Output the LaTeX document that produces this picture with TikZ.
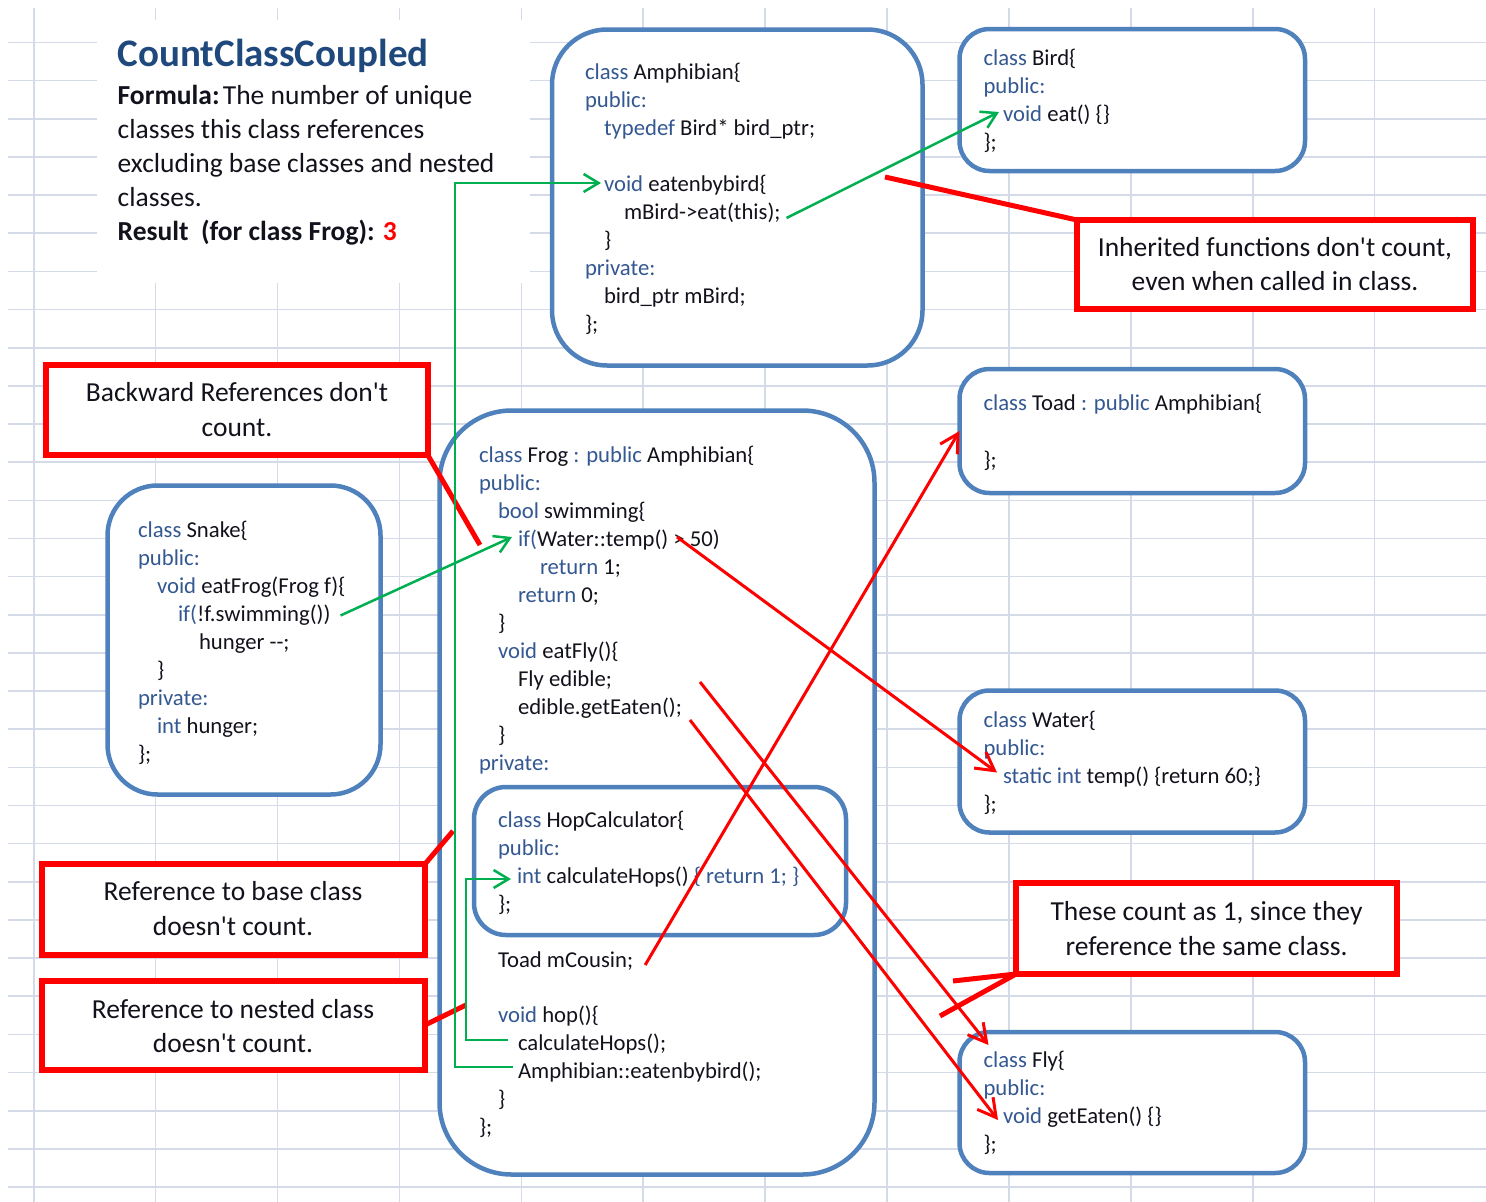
\documentclass[tikz,border=0pt]{standalone}
\usepackage{fontspec}
\setmainfont{Carlito}
\usetikzlibrary{arrows.meta}
\definecolor{gridc}{RGB}{212,218,232}
\definecolor{boxblue}{RGB}{79,129,189}
\definecolor{cred}{RGB}{255,0,0}
\definecolor{cgreen}{RGB}{0,176,80}
\definecolor{kwc}{RGB}{52,88,145}
\definecolor{ink}{RGB}{18,18,28}
\definecolor{titleblue}{RGB}{31,73,125}
\newcommand{\kw}[1]{\textcolor{kwc}{#1}}
\newcommand{\codefont}{\fontsize{22.7}{28}\selectfont}
\newcommand{\notefont}{\fontsize{27.5}{34}\selectfont}
\newcommand{\sq}{\textquotesingle}
\begin{document}
\begin{tikzpicture}[x=1pt,y=-1pt,
  gridline/.style={draw=gridc, line width=1.6pt},
  classbox/.style={draw=boxblue, line width=4.5pt, fill=white, inner sep=0pt, outer sep=0pt},
  callout/.style={draw=cred, line width=6pt, fill=white, inner sep=0pt, outer sep=0pt},
  code/.style={anchor=base west, inner sep=0pt, outer sep=0pt, font=\codefont, text=ink, text height=16pt, text depth=5pt},
  note/.style={anchor=base, inner sep=0pt, font=\notefont, text=ink},
  body/.style={anchor=base west, inner sep=0pt, font=\notefont, text=ink},
  garrow/.style={draw=cgreen, line width=2.5pt, -{Straight Barb[length=15pt,width=18pt]}},
  rarrow/.style={draw=cred, line width=3pt, -{Straight Barb[length=18pt,width=20pt]}},
  rlink/.style={draw=cred, line width=5pt},
]
\useasboundingbox[fill=white] (0,0) rectangle (1486,1202);
% spreadsheet grid
\foreach \j in {0,...,11}{\draw[gridline] ({33.7+121.9*\j},8) -- ({33.7+121.9*\j},1202);}
\foreach \k in {0,...,30}{\draw[gridline] (8,{42.5+38.15*\k}) -- (1486,{42.5+38.15*\k});}
% title block
\node[fill=white, inner sep=0pt, minimum width=433pt, minimum height=263pt] (titlebg) at (313.5,151.5) {};
\node[anchor=base west, inner sep=0pt, font=\bfseries\fontsize{39}{39}\selectfont, text=titleblue] (title) at (117.5,66.5) {CountClassCoupled};
\node[body] (f1) at (117.5,104) {\textbf{Formula:}\hspace{0.12em}The number of unique};
\node[body] (f2) at (117.5,138.2) {classes this class references};
\node[body] (f3) at (117.5,172.4) {excluding base classes and nested};
\node[body] (f4) at (117.5,206.6) {classes.};
\node[body] (f5) at (117.5,240.8) {\textbf{Result\hspace{0.45em}(for class Frog): \textcolor{cred}{3}}};
% class boxes
\node[classbox, rounded corners=55pt, minimum width=370.5pt, minimum height=336pt] (amph) at (737.25,197.5) {};
\node[classbox, rounded corners=30pt, minimum width=345.5pt, minimum height=142pt] (bird) at (1132.25,100) {};
\node[classbox, rounded corners=30pt, minimum width=345.5pt, minimum height=124pt] (toad) at (1132.25,431) {};
\node[classbox, rounded corners=30pt, minimum width=345.5pt, minimum height=142pt] (water) at (1132.25,761.5) {};
\node[classbox, rounded corners=30pt, minimum width=345.5pt, minimum height=141pt] (fly) at (1132.25,1102.5) {};
\node[classbox, rounded corners=50pt, minimum width=273pt, minimum height=309pt] (snake) at (244,640) {};
\node[classbox, rounded corners=72pt, minimum width=435pt, minimum height=764pt] (frog) at (657,792.5) {};
\node[classbox, rounded corners=32pt, minimum width=372pt, minimum height=148pt] (hop) at (660,861) {};
% callout boxes
\node[callout, minimum width=382pt, minimum height=90pt] (back) at (236.5,409.5) {};
\node[callout, minimum width=383pt, minimum height=91pt] (base) at (233.5,909.5) {};
\node[callout, minimum width=383pt, minimum height=89pt] (nested) at (233.5,1025) {};
\node[callout, minimum width=396pt, minimum height=89pt] (inh) at (1275,264.5) {};
\node[callout, minimum width=381pt, minimum height=91pt] (these) at (1206.5,928.5) {};
\node[note] (backA) at (237,401.7) {Backward References don\sq t};
\node[note] (backB) at (237,436) {count.};
\node[note] (baseA) at (233,900) {Reference to base class};
\node[note] (baseB) at (233,935) {doesn\sq t count.};
\node[note] (nestA) at (233,1018) {Reference to nested class};
\node[note] (nestB) at (233,1052) {doesn\sq t count.};
\node[note] (inhA) at (1275,256.7) {Inherited functions don\sq t count,};
\node[note] (inhB) at (1275,290.7) {even when called in class.};
\node[note] (theA) at (1206.5,920) {These count as 1,\ since they};
\node[note] (theB) at (1206.5,955) {reference the same class.};
% Amphibian
\node[code] (a1) at (585,79) {\kw{class} Amphibian\{};
\node[code] (a2) at (585,107) {\kw{public:}};
\node[code] (a3) at (604,135) {\kw{typedef} Bird* bird\_ptr;};
\node[code] (a4) at (604,191) {\kw{void} eatenbybird\{};
\node[code] (a5) at (624,219) {mBird->eat(this);};
\node[code] (a6) at (604,247) {\}};
\node[code] (a7) at (585,275) {\kw{private:}};
\node[code] (a8) at (604,303) {bird\_ptr mBird;};
\node[code] (a9) at (585,331) {\};};
% Bird
\node[code] (b1) at (983.5,65) {\kw{class} Bird\{};
\node[code] (b2) at (983.5,93) {\kw{public:}};
\node[code] (b3) at (1003,121) {\kw{void} eat() \{\}};
\node[code] (b4) at (983.5,149) {\};};
% Toad
\node[code] (t1) at (983.5,410) {\kw{class} Toad \kw{: public} Amphibian\{};
\node[code] (t2) at (983.5,467) {\};};
% Water
\node[code] (w1) at (983.5,727) {\kw{class} Water\{};
\node[code] (w2) at (983.5,755) {\kw{public:}};
\node[code] (w3) at (1003,783) {\kw{static int} temp() \{return 60;\}};
\node[code] (w4) at (983.5,811) {\};};
% Fly
\node[code] (fl1) at (983.5,1067) {\kw{class} Fly\{};
\node[code] (fl2) at (983.5,1095) {\kw{public:}};
\node[code] (fl3) at (1003,1123) {\kw{void} getEaten() \{\}};
\node[code] (fl4) at (983.5,1151) {\};};
% Snake
\node[code] (s1) at (138,537) {\kw{class} Snake\{};
\node[code] (s2) at (138,565) {\kw{public:}};
\node[code] (s3) at (157,593) {\kw{void} eatFrog(Frog f)\{};
\node[code] (s4) at (178,621) {\kw{if(}!f.swimming())};
\node[code] (s5) at (199,649) {hunger -{}-;};
\node[code] (s6) at (157,677) {\}};
\node[code] (s7) at (138,705) {\kw{private:}};
\node[code] (s8) at (157,733) {\kw{int} hunger;};
\node[code] (s9) at (138,761) {\};};
% Frog
\node[code] (fr1) at (479,462) {\kw{class} Frog \kw{: public} Amphibian\{};
\node[code] (fr2) at (479,490) {\kw{public:}};
\node[code] (fr3) at (498,518) {\kw{bool} swimming\{};
\node[code] (fr4) at (518,546) {\kw{if(}Water::temp() > 50)};
\node[code] (fr5) at (540,574) {\kw{return} 1;};
\node[code] (fr6) at (518,602) {\kw{return} 0;};
\node[code] (fr7) at (498,630) {\}};
\node[code] (fr8) at (498,658) {\kw{void} eatFly()\{};
\node[code] (fr9) at (518,686) {Fly edible;};
\node[code] (fr10) at (518,714) {edible.getEaten();};
\node[code] (fr11) at (498,742) {\}};
\node[code] (fr12) at (479,770) {\kw{private:}};
\node[code] (h1) at (498,827) {\kw{class} HopCalculator\{};
\node[code] (h2) at (498,855) {\kw{public:}};
\node[code] (h3) at (517,883) {\kw{int} calculateHops() \kw{\{ return 1; \}}};
\node[code] (h4) at (498,911) {\};};
\node[code] (tm) at (498,967) {Toad mCousin;};
\node[code] (fh) at (498,1022) {\kw{void} hop()\{};
\node[code] (fc) at (518,1050) {calculateHops();};
\node[code] (fe) at (518,1078) {Amphibian::eatenbybird();};
\node[code] (fb) at (498,1106) {\}};
\node[code] (fz) at (479,1134) {\};};
% callout links
\coordinate (inhP) at (885,177);
\coordinate (backP) at (480,545);
\coordinate (baseP) at (453,831);
\coordinate (nestP) at (466,1005);
\coordinate (theP1) at (953,981);
\coordinate (theP2) at (940,1016);
\draw[rlink] (inh.north west) -- (inhP);
\draw[rlink] (back.south east) -- (backP);
\draw[rlink] (base.north east) -- (baseP);
\draw[rlink] (nested.east) -- (nestP);
\draw[rlink] (these.south west) -- (theP1);
\draw[rlink] (these.south west) -- (theP2);
% green references
\coordinate (gA) at (455,183);
\coordinate (gB) at (466,879);
\draw[garrow] ([xshift=10pt]s4.east) -- ([shift={(-6pt,3.5pt)}]fr4.west);
\draw[garrow] ([shift={(6pt,-4.5pt)}]a5.east) -- ([shift={(-4pt,3.5pt)}]b3.west);
\draw[garrow] ([shift={(-5pt,5.5pt)}]fe.west) -| (gA) -- ([shift={(-3pt,2.5pt)}]a4.west);
\draw[garrow] ([shift={(-10pt,4.5pt)}]fc.west) -| (gB) -- ([shift={(-6pt,-1.5pt)}]h3.west);
% red references
\coordinate (tempP) at (677,537);
\coordinate (flyP) at (700,682);
\coordinate (eatP) at (690,720);
\draw[rarrow] (tempP) -- ([shift={(-6pt,5pt)}]w3.west);
\draw[rarrow] ([shift={(12pt,-3.5pt)}]tm.east) -- (toad.west);
\draw[rarrow] (flyP) -- ([shift={(5pt,16.5pt)}]fl1.west);
\draw[rarrow] (eatP) -- ([shift={(-5pt,-2.5pt)}]fl3.west);
\end{tikzpicture}
\end{document}
